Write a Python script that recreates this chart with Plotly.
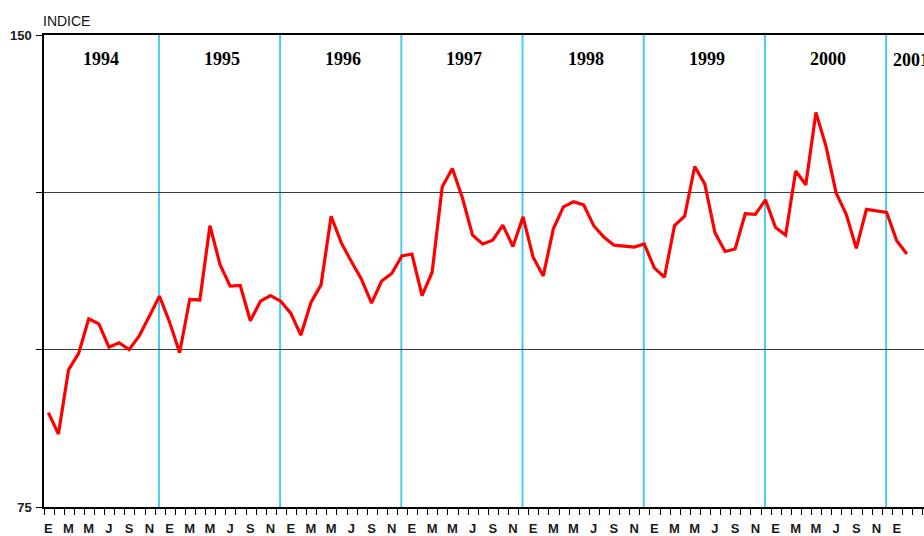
import plotly.graph_objects as go

# ─────────────────────────────────────────────
# Data: monthly index, Jan 1994 .. Feb 2001
# ─────────────────────────────────────────────

YEARS = ["1994", "1995", "1996", "1997", "1998", "1999", "2000", "2001"]
MONTH_LETTERS = ["E", "M", "M", "J", "S", "N"]  # every second month

INDEX_1994 = [90.0, 86.6, 96.8, 99.4, 104.9, 104.1, 100.4, 101.1, 100.0, 102.2, 105.3, 108.5]
INDEX_1995 = [104.4, 99.5, 108.0, 107.9, 119.7, 113.5, 110.1, 110.2, 104.6, 107.7, 108.6, 107.7]
INDEX_1996 = [105.8, 102.3, 107.5, 110.3, 121.2, 117.0, 114.0, 111.2, 107.4, 110.9, 112.1, 114.9]
INDEX_1997 = [115.2, 108.6, 112.3, 125.9, 128.8, 124.1, 118.2, 116.8, 117.4, 119.8, 116.4, 121.1]
INDEX_1998 = [114.7, 111.7, 119.2, 122.7, 123.5, 123.0, 119.7, 117.9, 116.6, 116.5, 116.3, 116.8]
INDEX_1999 = [113.0, 111.5, 119.7, 121.2, 129.1, 126.3, 118.6, 115.6, 116.0, 121.6, 121.5, 123.8]
INDEX_2000 = [119.4, 118.2, 128.4, 126.2, 137.7, 132.3, 124.9, 121.5, 116.1, 122.3, 122.0, 121.8]
INDEX_2001 = [117.3, 115.2]

Y_TICKS = [75, 100, 125, 150]
Y_TICK_TEXT = ["75", "", "", "150"]

values = (INDEX_1994 + INDEX_1995 + INDEX_1996 + INDEX_1997
          + INDEX_1998 + INDEX_1999 + INDEX_2000 + INDEX_2001)
months = list(range(len(values)))

# ─────────────────────────────────────────────
# Theme
# ─────────────────────────────────────────────

LINE_RED = "#ff0000"
YEAR_BLUE = "#45cdf0"
GRID_COLOR = "#3c3c3c"
AXIS_FONT = dict(family="Liberation Sans Narrow, Liberation Sans, Arial, sans-serif",
                 size=13, color="#1a1a1a")
YEAR_FONT = dict(family="Liberation Serif, Times New Roman, serif", size=18, color="#000000")

fig = go.Figure()

fig.add_trace(go.Scatter(
    x=months,
    y=values,
    mode="lines",
    line=dict(color=LINE_RED, width=3.2),
    hoverinfo="x+y",
    showlegend=False,
))

# year separators at each December
for k in range(len(YEARS) - 1):
    fig.add_vline(x=12 * k + 10.95, line=dict(color=YEAR_BLUE, width=2), layer="below")

# year titles (the last one runs off the right edge, as in the source)
for k, year in enumerate(YEARS):
    last = k == len(YEARS) - 1
    fig.add_annotation(
        x=12 * k + (-0.6 if last else 5.2), y=146.0 if last else 146.2,
        text=f"<b>{year}</b>",
        showarrow=False, font=YEAR_FONT,
        xanchor="left" if last else "center", yanchor="middle",
    )

fig.add_annotation(
    x=0, y=1, xref="paper", yref="paper", text="INDICE",
    showarrow=False, xanchor="left", yanchor="bottom", xshift=-3, yshift=4,
    font=dict(family="Liberation Sans, Arial, sans-serif", size=14, color="#111111"),
)

label_vals = list(range(0, len(values), 2))
label_text = [MONTH_LETTERS[i % 6] for i in range(len(label_vals))]

fig.update_xaxes(
    range=[-0.43, 86.7],
    automargin=False,
    tickmode="array",
    tickvals=label_vals,
    ticktext=[f"<b>{t}</b>" for t in label_text],
    ticks="",
    ticklabelstandoff=9,
    tickfont=AXIS_FONT,
    minor=dict(
        tickmode="array",
        tickvals=[m - 0.43 for m in range(len(values) + 2)],
        ticks="outside", ticklen=6, tickcolor="#000000", tickwidth=1,
        showgrid=False,
    ),
    showgrid=False,
    zeroline=False,
    showline=True, linecolor="#000000", linewidth=1.5, mirror=True,
)

fig.update_yaxes(
    range=[75, 150],
    automargin=False,
    tickmode="array",
    tickvals=Y_TICKS,
    ticktext=[f"<b>{t}</b>" for t in Y_TICK_TEXT],
    ticks="outside", ticklen=6, tickcolor="#000000",
    tickfont=AXIS_FONT,
    ticklabelstandoff=2,
    showgrid=True, gridcolor=GRID_COLOR, gridwidth=1,
    zeroline=False,
    showline=True, linecolor="#000000", linewidth=1.5,
)

fig.update_layout(
    width=924,
    height=536,
    margin=dict(l=44, r=0, t=35, b=29),
    plot_bgcolor="#ffffff",
    paper_bgcolor="#ffffff",
    showlegend=False,
)

fig.write_html(
    "out.html",
    config={"displayModeBar": False},
    post_script="document.body.style.margin='0';document.body.style.overflow='hidden';",
)
